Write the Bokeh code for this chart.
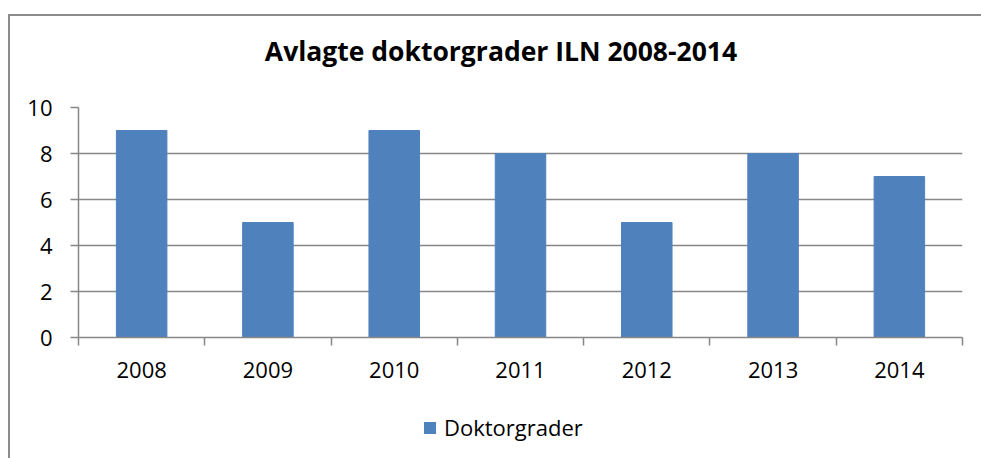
from bokeh.plotting import figure
from bokeh.layouts import column
from bokeh.models import (FactorRange, Range1d, LinearAxis, FixedTicker, Grid, Label, Legend)
from bokeh.embed import file_html
from bokeh.resources import INLINE

years = ["2008", "2009", "2010", "2011", "2012", "2013", "2014"]
doktorgrader = [9, 5, 9, 8, 5, 8, 7]
y_ticks = [0, 2, 4, 6, 8, 10]
title_text = "Avlagte doktorgrader ILN 2008-2014"
series_name = "Doktorgrader"

FONT = "Open Sans"
GRAY = "#878787"
BLUE = "#4F81BD"

W = 971
H_TITLE, H_MAIN, H_LEG = 60, 324, 58

# title strip
t = figure(width=W, height=H_TITLE, x_range=Range1d(0, 1), y_range=Range1d(0, 1),
           x_axis_type=None, y_axis_type=None, output_backend="svg",
           toolbar_location=None, min_border=0)
t.outline_line_color = None
t.grid.visible = False
t.add_layout(Label(x=422.5, y=26, x_units="screen", y_units="screen", text=title_text,
                   text_font=FONT, text_font_size="26.5px", text_font_style="bold",
                   text_align="center", text_baseline="alphabetic", text_color="black"))

# main chart
p = figure(width=W, height=H_MAIN, x_range=FactorRange(factors=years, range_padding=0),
           y_range=Range1d(0, 10), x_axis_type=None, y_axis_type=None,
           output_backend="svg", toolbar_location=None,
           min_border_left=68, min_border_right=19, min_border_top=31,
           min_border_bottom=63)
p.outline_line_color = None
p.background_fill_color = "white"
p.border_fill_color = "white"

r = p.vbar(x=years, top=doktorgrader, width=0.4, color=BLUE)

# y axis
yaxis = LinearAxis(ticker=FixedTicker(ticks=y_ticks))
yaxis.axis_line_color = GRAY
yaxis.axis_line_width = 1.5
yaxis.major_tick_line_color = GRAY
yaxis.major_tick_line_width = 1.5
yaxis.major_tick_out = 8
yaxis.major_tick_in = 0
yaxis.minor_tick_line_color = None
yaxis.major_label_text_font = FONT
yaxis.major_label_text_font_size = "22px"
yaxis.major_label_text_color = "black"
yaxis.major_label_standoff = 18
p.add_layout(yaxis, "left")

# x axis: labels at category centres, ticks at category boundaries
n = len(years)
centres = [i + 0.5 for i in range(n)]
bounds = [float(i) for i in range(n + 1)]
xaxis = LinearAxis(ticker=FixedTicker(ticks=centres, minor_ticks=bounds))
xaxis.major_label_overrides = {c: y for c, y in zip(centres, years)}
xaxis.axis_line_color = GRAY
xaxis.axis_line_width = 1.5
xaxis.major_tick_line_color = None
xaxis.major_tick_out = 0
xaxis.major_tick_in = 0
xaxis.minor_tick_line_color = GRAY
xaxis.minor_tick_line_width = 1.5
xaxis.minor_tick_out = 8
xaxis.minor_tick_in = 0
xaxis.major_label_text_font = FONT
xaxis.major_label_text_font_size = "22px"
xaxis.major_label_text_color = "black"
xaxis.major_label_standoff = 16
p.add_layout(xaxis, "below")

# grid
grid = Grid(dimension=1, ticker=FixedTicker(ticks=y_ticks), grid_line_color=GRAY,
            grid_line_width=1.5)
p.add_layout(grid)

# legend strip
q = figure(width=W, height=H_LEG, x_range=Range1d(0, 1), y_range=Range1d(0, 1),
           x_axis_type=None, y_axis_type=None, output_backend="svg",
           toolbar_location=None, min_border=0)
q.outline_line_color = None
q.grid.visible = False
# legend proxy: a zero-height bar (invisible) that carries the series colour
proxy = q.vbar(x=[0.5], top=[0], width=0.01, fill_color=BLUE, line_color=None)
lg = Legend(items=[(series_name, [proxy])], location=(344, 16), orientation="horizontal")
lg.border_line_color = None
lg.background_fill_alpha = 0
lg.padding = 0
lg.margin = 0
lg.glyph_width = 15
lg.glyph_height = 15
lg.label_standoff = 7
lg.label_text_font = FONT
lg.label_text_font_size = "22px"
lg.label_text_color = "black"
q.add_layout(lg, "center")

layout = column(t, p, q, spacing=0)
layout.margin = (14, 0, 0, 8)
layout.styles = {"border-left": "2px solid #8c8c8c", "border-top": "2px solid #8c8c8c"}

open("out.html", "w").write(file_html(layout, INLINE))
